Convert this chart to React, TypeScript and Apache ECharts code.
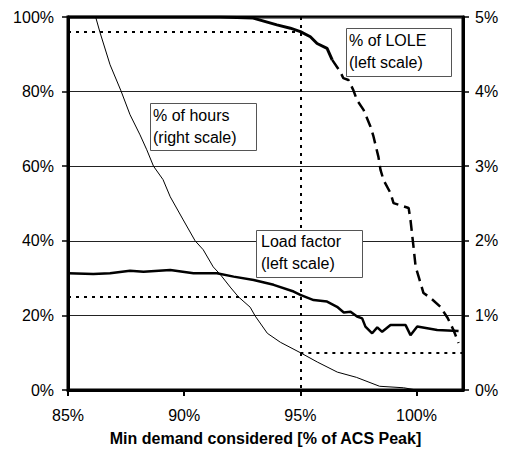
import React, { useEffect, useRef } from "react";
import * as echarts from "echarts";

// x: minimum demand considered [% of ACS peak]
const xTicks = [85, 90, 95, 100];
const leftTicksMax = 100;
const rightTicksMax = 5;

// % of hours (right scale)
const hoursX = [86.19, 86.38, 86.81, 87.28, 87.67, 88.1, 88.39, 88.68, 89.09, 89.4, 89.96, 90.47, 90.82, 91.25, 91.55, 91.98, 92.33, 92.84, 93.06, 93.58, 94.14, 95.0, 95.73, 96.59, 97.41, 98.41, 99.44, 100.0];
const hoursY = [5.0, 4.79, 4.36, 4.01, 3.69, 3.42, 3.22, 3.0, 2.82, 2.59, 2.28, 2.0, 1.88, 1.65, 1.55, 1.38, 1.25, 1.11, 0.99, 0.76, 0.64, 0.5, 0.375, 0.24, 0.17, 0.05, 0.03, 0.0];

// % of LOLE (left scale)
const loleX = [85, 91.55, 92.97, 93.99, 94.57, 95.0, 95.43, 95.72, 96.15, 96.37, 96.72, 96.85, 97.07, 97.28, 97.44, 97.72, 98.02, 98.15, 98.36, 98.45, 98.58, 98.88, 99.01, 99.66, 99.74, 99.87, 99.96, 100.09, 100.3, 100.6, 101.03, 101.34, 101.59, 101.81];
const loleY = [100, 100, 99.7, 97.9, 97.0, 96.1, 94.7, 92.9, 91.6, 88.5, 85.3, 83.6, 83.1, 80.4, 77.7, 75.1, 70.6, 67.9, 62.5, 59.0, 56.3, 52.8, 50.1, 48.8, 45.6, 38.4, 33.1, 30.4, 26.0, 24.7, 22.3, 19.3, 16.1, 12.6];
const loleDashFrom = 96.37;

// Load factor (left scale)
const lfX = [85.0, 86.09, 86.81, 87.67, 88.25, 89.4, 90.4, 91.41, 92.13, 92.99, 93.85, 94.71, 95.0, 95.57, 96.15, 96.58, 96.87, 97.16, 97.44, 97.66, 97.8, 98.09, 98.31, 98.52, 98.88, 99.53, 99.74, 100.03, 100.89, 101.81];
const lfY = [31.3, 31.1, 31.3, 32.0, 31.7, 32.2, 31.3, 31.3, 30.4, 29.5, 28.2, 26.4, 25.5, 24.1, 23.7, 22.3, 20.8, 21.0, 19.7, 19.2, 17.0, 15.2, 16.8, 15.6, 17.4, 17.4, 14.7, 17.0, 16.1, 15.8];

// reference values at 95% min demand
const refX = 95;
const refLole = 96;
const refLoad = 25;
const refHours = 0.5; // right scale

const FONT = '"Liberation Sans", Arial, sans-serif';

export default function App() {
  const ref = useRef<HTMLDivElement>(null);
  useEffect(() => {
    if (!ref.current) return;
    const chart = echarts.init(ref.current, undefined, { renderer: "svg" });
    const xMin = 85;
    const xMax = 102;
    const hoursToLeft = leftTicksMax / rightTicksMax;
    const pairs = (xs: number[], ys: number[]) => xs.map((x, i) => [x, ys[i]]);
    const loleAll = pairs(loleX, loleY);
    const loleSolid = loleAll.filter((p) => p[0] <= loleDashFrom);
    const loleDashed = loleAll.filter((p) => p[0] >= loleDashFrom);
    const dotted = { type: [3, 5] as any, width: 2, color: "#000" };

    const box = (x: number, y: number, w: number, h: number, text: string, tx: number, ty: number) => [
      {
        type: "rect",
        z: 100,
        shape: { x: x + 0.5, y: y + 0.5, width: w, height: h },
        style: { fill: "#fff", stroke: "#555", lineWidth: 1 },
        silent: true,
      },
      {
        type: "text",
        z: 101,
        x: tx,
        y: ty,
        style: { text, font: `16px ${FONT}`, lineHeight: 22, fill: "#000", verticalAlign: "top" },
        silent: true,
      },
    ];

    chart.setOption({
      animation: false,
      backgroundColor: "#fff",
      textStyle: { fontFamily: FONT },
      grid: {
        left: 68,
        right: 43,
        top: 17,
        bottom: 59,
        containLabel: false,
        outerBoundsMode: "none",
        show: true,
        borderColor: "#000",
        borderWidth: 3,
        backgroundColor: "transparent",
      },
      xAxis: {
        type: "value",
        min: xMin,
        max: xMax,
        interval: 5,
        name: "Min demand considered [% of ACS Peak]",
        nameLocation: "middle",
        nameGap: 40,
        nameTextStyle: { fontSize: 16, fontWeight: "bold", color: "#000", fontFamily: FONT },
        axisLine: { show: true, onZero: false, lineStyle: { color: "#000", width: 3 } },
        axisTick: { show: true, length: 6, customValues: xTicks, lineStyle: { color: "#000", width: 2 } },
        axisLabel: { customValues: xTicks, formatter: "{value}%", fontSize: 16, color: "#000", margin: 17, fontFamily: FONT },
        splitLine: { show: false },
      },
      yAxis: [
        {
          type: "value",
          min: 0,
          max: leftTicksMax,
          interval: 20,
          position: "left",
          axisLine: { show: true, lineStyle: { color: "#000", width: 3 } },
          axisTick: { show: true, length: 6, lineStyle: { color: "#000", width: 1.5 } },
          axisLabel: { formatter: "{value}%", fontSize: 16, color: "#000", margin: 14, fontFamily: FONT },
          splitLine: { show: true, lineStyle: { color: "#222", width: 1 } },
        },
        {
          type: "value",
          min: 0,
          max: rightTicksMax,
          interval: 1,
          position: "right",
          axisLine: { show: true, lineStyle: { color: "#000", width: 3 } },
          axisTick: { show: true, length: 6, lineStyle: { color: "#000", width: 1.5 } },
          axisLabel: { formatter: "{value}%", fontSize: 16, color: "#000", margin: 12, fontFamily: FONT },
          splitLine: { show: false },
        },
      ],
      series: [
        {
          type: "line",
          name: "refs",
          data: [],
          silent: true,
          markLine: {
            silent: true,
            symbol: "none",
            label: { show: false },
            lineStyle: dotted,
            data: [
              [{ coord: [xMin, refLole] }, { coord: [refX, refLole] }],
              [{ coord: [refX, leftTicksMax] }, { coord: [refX, 0] }],
              [{ coord: [xMin, refLoad] }, { coord: [refX, refLoad] }],
              [{ coord: [refX, refHours * hoursToLeft] }, { coord: [xMax, refHours * hoursToLeft] }],
            ],
          },
        },
        {
          type: "line",
          name: "% of hours",
          yAxisIndex: 1,
          data: pairs(hoursX, hoursY),
          showSymbol: false,
          symbol: "none",
          silent: true,
          lineStyle: { color: "#000", width: 1 },
        },
        {
          type: "line",
          name: "Load factor",
          data: pairs(lfX, lfY),
          showSymbol: false,
          symbol: "none",
          silent: true,
          lineStyle: { color: "#000", width: 2.5 },
        },
        {
          type: "line",
          name: "% of LOLE",
          data: loleSolid,
          showSymbol: false,
          symbol: "none",
          silent: true,
          lineStyle: { color: "#000", width: 3 },
        },
        {
          type: "line",
          name: "% of LOLE dashed",
          data: loleDashed,
          showSymbol: false,
          symbol: "none",
          silent: true,
          lineStyle: { color: "#000", width: 2.5, type: [11, 6] },
        },
      ],
      graphic: [
        ...box(150, 103, 106, 47, "% of hours\n(right scale)", 153, 104),
        ...box(346, 28, 105, 48, "% of LOLE\n(left scale)", 349, 29),
        ...box(256, 230, 106, 47, "Load factor\n(left scale)", 261, 230),
      ],
    });
    return () => chart.dispose();
  }, []);
  return (
    <div
      ref={ref}
      style={{ position: "fixed", left: 0, top: 0, width: 506, height: 449, background: "#fff" }}
    />
  );
}
